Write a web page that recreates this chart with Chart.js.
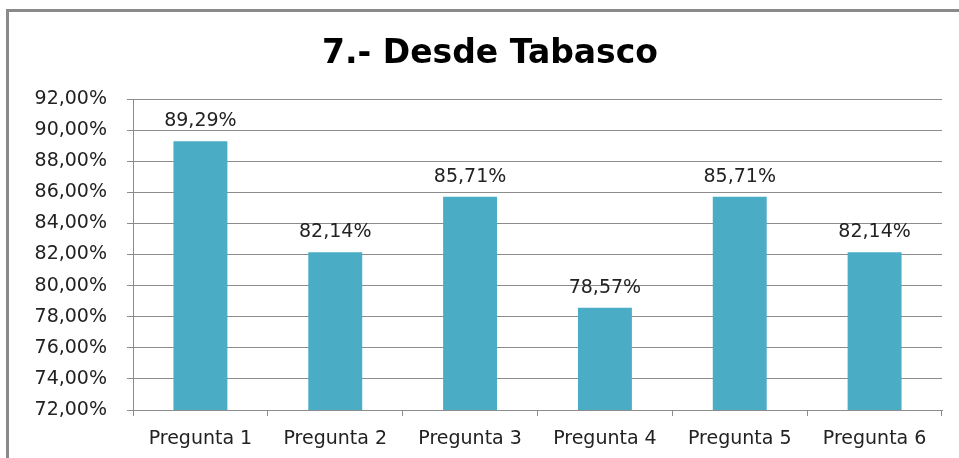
<!DOCTYPE html>
<html>
<head>
<meta charset="utf-8">
<script src="https://cdn.jsdelivr.net/npm/chart.js@4"></script>
<style>
  html, body { margin: 0; padding: 0; background: #fff; }
  #wrap { position: relative; width: 959px; height: 458px; }
  #frame { position: absolute; left: 6px; top: 9px; width: 960px; height: 460px;
           border-left: 3px solid #8a8a8a; border-top: 3px solid #8a8a8a; box-sizing: border-box; }
  canvas { position: absolute; left: 0; top: 0; }
</style>
</head>
<body>
<div id="wrap">
  <div id="frame"></div>
  <canvas id="myChart" width="959" height="458"></canvas>
</div>
<script>
var titleText = '7.- Desde Tabasco';
var categories = ['Pregunta 1', 'Pregunta 2', 'Pregunta 3', 'Pregunta 4', 'Pregunta 5', 'Pregunta 6'];
var values = [89.29, 82.14, 85.71, 78.57, 85.71, 82.14];
var yMin = 72, yMax = 92, yStep = 2;

function pct(v){
    return v.toFixed(2).replace('.', ',') + '%';
}

// title + value labels drawn by hand
var labelsPlugin = {
    id: 'labelsPlugin',
    afterDatasetsDraw: function(chart){
        var ctx = chart.ctx;
        ctx.save();
        ctx.fillStyle = '#000';
        ctx.font = 'bold 33px "DejaVu Sans"';
        ctx.textAlign = 'center';
        ctx.textBaseline = 'alphabetic';
        ctx.fillText(titleText, 490, 63);

        ctx.font = '19px "DejaVu Sans"';
        ctx.fillStyle = '#222';
        var meta = chart.getDatasetMeta(0);
        meta.data.forEach(function(bar, i){
            ctx.fillText(pct(values[i]), bar.x, bar.y - 15);
        });
        ctx.restore();
    }
};

var ctx = document.getElementById('myChart').getContext('2d');
var myChart = new Chart(ctx, {
    type: 'bar',
    data: {
        labels: categories,
        datasets: [{
            data: values,
            backgroundColor: '#4bacc6',
            borderWidth: 0,
            barPercentage: 0.4,
            categoryPercentage: 1
        }]
    },
    options: {
        responsive: false,
        animation: false,
        layout: { padding: { top: 99, right: 17, bottom: 0, left: 0 } },
        plugins: {
            legend: { display: false },
            title: { display: false },
            tooltip: { enabled: false }
        },
        scales: {
            y: {
                min: yMin,
                max: yMax,
                afterFit: function(s){ s.width = 133; },
                ticks: {
                    stepSize: yStep,
                    color: '#222',
                    padding: 20,
                    font: { family: '"DejaVu Sans"', size: 19 },
                    callback: function(v){ return pct(v); }
                },
                grid: { color: '#8c8c8c', tickLength: 6, lineWidth: 1 },
                border: { color: '#8c8c8c' }
            },
            x: {
                afterFit: function(s){ s.height = 48; },
                ticks: {
                    color: '#222',
                    padding: 12,
                    font: { family: '"DejaVu Sans"', size: 19 }
                },
                grid: { offset: true, drawOnChartArea: false, tickLength: 6, color: '#8c8c8c' },
                border: { color: '#8c8c8c' }
            }
        }
    },
    plugins: [labelsPlugin]
});
</script>
</body>
</html>
